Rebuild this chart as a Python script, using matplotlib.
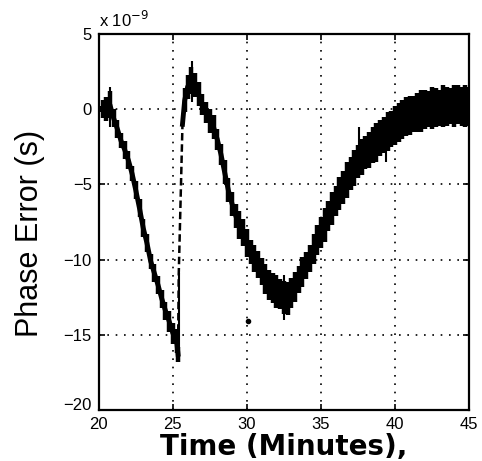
import numpy as np
import matplotlib
matplotlib.use('Agg')
import matplotlib.pyplot as plt
from matplotlib.transforms import ScaledTranslation

# phase error trace (units of 1e-9 s)
time_min = [20.1, 20.25, 20.5, 20.75, 21.0, 21.25, 21.5, 21.75, 22.0, 22.25, 22.5, 22.75,
            23.0, 23.25, 23.5, 23.75, 24.0, 24.25, 24.5, 24.75, 25.0, 25.25, 25.35,
            25.4, 25.55, 25.65,
            25.8, 26.0, 26.25, 26.5, 26.75, 27.0, 27.25, 27.5, 27.75, 28.0, 28.25, 28.5,
            28.75, 29.0, 29.25, 29.5, 29.75, 30.0, 30.25, 30.5, 30.75, 31.0, 31.25, 31.5,
            31.75, 32.0, 32.25, 32.5, 32.75, 33.0, 33.25, 33.5, 33.75, 34.0, 34.25, 34.5,
            34.75, 35.0, 35.25, 35.5, 35.75, 36.0, 36.25, 36.5, 36.75, 37.0, 37.25, 37.5,
            37.75, 38.0, 38.25, 38.5, 38.75, 39.0, 39.25, 39.5, 39.75, 40.0, 40.25, 40.5,
            40.75, 41.0, 41.25, 41.5, 41.75, 42.0, 42.25, 42.5, 42.75, 43.0, 43.25, 43.5,
            43.75, 44.0, 44.25, 44.5, 44.75, 45.0]
phase_ns = [0.0, 0.0, 0.0, 0.3, -0.6, -1.3, -2.1, -2.7, -3.4, -4.3, -5.4, -6.6,
            -7.9, -8.9, -10.1, -10.9, -11.7, -12.6, -13.4, -14.1, -14.9, -15.4, -16.3,
            -10.9, -5.0, -1.0,
            0.6, 1.5, 1.9, 1.6, 1.0, 0.3, -0.2, -0.8, -1.2, -2.0, -3.0, -4.2,
            -5.4, -6.3, -7.1, -7.7, -8.2, -8.9, -9.5, -9.9, -10.3, -10.8, -11.3, -11.7,
            -11.9, -12.1, -12.3, -12.5, -12.6, -12.2, -11.8, -11.3, -10.8, -10.4, -9.9, -9.3,
            -8.7, -8.2, -7.7, -7.1, -6.6, -6.1, -5.6, -5.2, -4.7, -4.3, -3.9, -3.5,
            -3.2, -2.9, -2.7, -2.4, -2.2, -1.9, -1.7, -1.5, -1.3, -1.1, -0.9, -0.7,
            -0.5, -0.4, -0.3, -0.2, -0.1, 0.0, 0.0, 0.1, 0.1, 0.1, 0.2, 0.2,
            0.2, 0.2, 0.3, 0.2, 0.2, 0.2]
spread_ns = [0.2, 0.6, 0.8, 0.9, 0.6, 0.6, 0.5, 0.6, 0.6, 0.5, 0.6, 0.6,
             0.6, 0.6, 0.5, 0.6, 0.6, 0.6, 0.6, 0.7, 0.7, 0.8, 0.5,
             0.0, 0.0, 0.0,
             0.8, 0.8, 0.9, 0.8, 0.8, 0.7, 0.7, 0.8, 0.8, 0.7, 0.7, 0.8,
             0.8, 0.8, 0.8, 0.9, 0.9, 0.9, 0.8, 0.9, 0.9, 0.9, 1.0, 1.0,
             1.0, 1.1, 1.0, 1.1, 1.1, 1.0, 1.0, 0.9, 1.0, 0.9, 0.9, 1.0,
             1.0, 1.0, 1.1, 1.0, 1.1, 1.0, 1.1, 1.1, 1.2, 1.1, 1.2, 1.1,
             1.2, 1.1, 1.2, 1.2, 1.3, 1.2, 1.2, 1.3, 1.2, 1.3, 1.3, 1.3,
             1.3, 1.3, 1.2, 1.3, 1.4, 1.3, 1.2, 1.4, 1.3, 1.2, 1.4, 1.3,
             1.2, 1.4, 1.3, 1.3, 1.4, 1.3]

# isolated spikes seen in the trace
spike_t = [20.75, 25.4, 26.3, 32.5, 37.6, 39.4, 43.5]
spike_lo = [-1.2, -16.8, 0.5, -14.0, -3.0, -3.5, -1.0]
spike_hi = [1.5, -10.9, 3.2, -11.0, -1.2, -1.0, 1.5]

outlier_t = [30.1]
outlier_ns = [-14.1]

x_ticks = [20, 25, 30, 35, 40, 45]
y_ticks = [-20, -15, -10, -5, 0, 5]

fig = plt.figure(figsize=(4.82, 4.61), dpi=100)
ax = fig.add_axes([0.205, 0.111, 0.768, 0.815])

t = np.array(time_min)
p = np.array(phase_ns)
s = np.array(spread_ns)
j0, j1 = 22, 25  # jump segment indices

ax.plot(t[:j0 + 1], p[:j0 + 1], color='black', lw=3.5)
ax.plot(t[j0:j1 + 1], p[j0:j1 + 1], color='black', lw=1.8, ls=(0, (3, 1.5)))
ax.plot(t[j1:], p[j1:], color='black', lw=3.5)
ax.vlines(t, p - s, p + s, color='black', lw=3.2)
ax.vlines(spike_t, spike_lo, spike_hi, color='black', lw=1.5)
ax.plot(outlier_t, outlier_ns, 'o', color='black', ms=3)

ax.set_xlim(20, 45)
ax.set_ylim(-20, 5)
ax.set_xticks(x_ticks)
ax.set_yticks(y_ticks)
ax.grid(True, color='black', ls=(0, (1, 4)), lw=1.2)
ax.tick_params(direction='in', top=True, right=True, length=4, width=1.2,
               labelsize=12)
ax.tick_params(axis='x', pad=5)
ax.tick_params(axis='y', pad=5)
for lab in ax.get_xticklabels() + ax.get_yticklabels():
    lab.set_family(['Liberation Sans', 'DejaVu Sans'])
for sp in ax.spines.values():
    sp.set_linewidth(1.6)

# MATLAB-style: bottom y label sits a bit higher than the x labels
lab = ax.get_yticklabels()[0]
lab.set_transform(lab.get_transform() + ScaledTranslation(0, 4 / 72, fig.dpi_scale_trans))

ax.text(0.0, 1.012, r'x 10$^{-9}$', transform=ax.transAxes, fontsize=12,
        ha='left', va='bottom', family=['Liberation Sans', 'DejaVu Sans'])
ax.set_xlabel('Time (Minutes),', fontsize=20, fontweight='bold', labelpad=1)
ax.set_ylabel('Phase Error (s)', fontsize=22,
              family=['Liberation Sans', 'DejaVu Sans'])
ax.yaxis.set_label_coords(-0.145, 0.47)

fig.savefig('out.png', dpi=100)
